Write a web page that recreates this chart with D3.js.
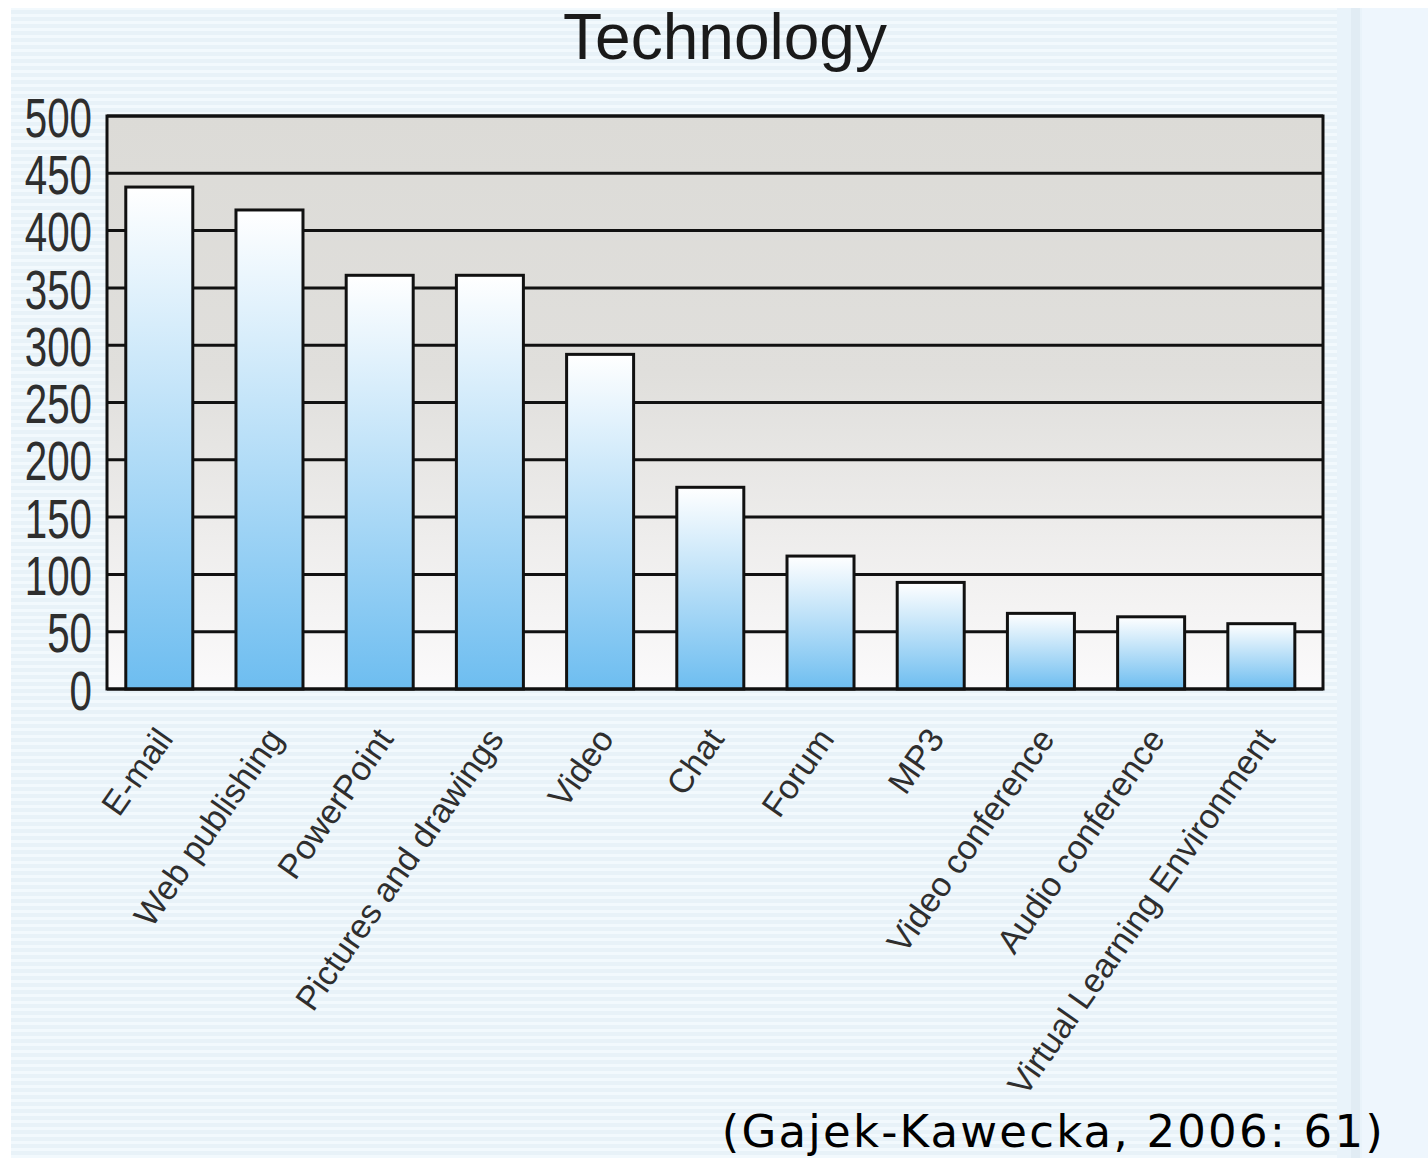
<!DOCTYPE html>
<html>
<head>
<meta charset="utf-8">
<script src="https://cdn.jsdelivr.net/npm/d3@7"></script>
<style>
  html, body { margin: 0; padding: 0; background: #ffffff; }
  svg { display: block; }
</style>
</head>
<body>
<svg id="chart" width="1428" height="1158"></svg>
<script>
// Survey counts per technology
const categories = ["E-mail", "Web publishing", "PowerPoint", "Pictures and drawings", "Video",
  "Chat", "Forum", "MP3", "Video conference", "Audio conference", "Virtual Learning Environment"];
const values = [438, 418, 361, 361, 292, 176, 116, 93, 66, 63, 57];
const yTicks = [0, 50, 100, 150, 200, 250, 300, 350, 400, 450, 500];
const titleText = "Technology";
const sourceText = "(Gajek-Kawecka, 2006: 61)";

const svg = d3.select("#chart");
const defs = svg.append("defs");

// page background: pale blue panel with faint horizontal stripes
const stripes = defs.append("pattern")
  .attr("id", "stripes").attr("patternUnits", "userSpaceOnUse")
  .attr("width", 8).attr("height", 7);
stripes.append("rect").attr("width", 8).attr("height", 7).attr("fill", "#f2f9fd");
stripes.append("rect").attr("y", 3).attr("width", 8).attr("height", 4).attr("fill", "#e8f2f8");

svg.append("rect").attr("x", 11).attr("y", 8).attr("width", 1417).attr("height", 1150).attr("fill", "#eef6fd");
svg.append("rect").attr("x", 11).attr("y", 8).attr("width", 1326).attr("height", 1150).attr("fill", "url(#stripes)");
svg.append("rect").attr("x", 1337).attr("y", 8).attr("width", 25).attr("height", 1150).attr("fill", "#e9f3fa");
svg.append("rect").attr("x", 1351).attr("y", 8).attr("width", 9).attr("height", 1150).attr("fill", "#e1ecf4");

// plot background gradient (grey at top fading to white)
const plotGrad = defs.append("linearGradient").attr("id", "plotBg")
  .attr("x1", 0).attr("y1", 0).attr("x2", 0).attr("y2", 1);
plotGrad.append("stop").attr("offset", "0%").attr("stop-color", "#dcdbd7");
plotGrad.append("stop").attr("offset", "45%").attr("stop-color", "#e0dfdc");
plotGrad.append("stop").attr("offset", "100%").attr("stop-color", "#fbfafb");

// bar fill gradient (white top to sky blue bottom)
const barGrad = defs.append("linearGradient").attr("id", "barFill")
  .attr("x1", 0).attr("y1", 0).attr("x2", 0).attr("y2", 1);
barGrad.append("stop").attr("offset", "0%").attr("stop-color", "#ffffff");
barGrad.append("stop").attr("offset", "100%").attr("stop-color", "#6dbdf0");

const plot = { left: 107, right: 1323, top: 116, bottom: 689 };

const x = d3.scaleBand()
  .domain(categories)
  .range([plot.left, plot.right])
  .paddingInner(0.392)
  .paddingOuter(0.213)
  .align(0.4);

const y = d3.scaleLinear()
  .domain([0, 500])
  .range([plot.bottom, plot.top]);

svg.append("rect")
  .attr("x", plot.left).attr("y", plot.top)
  .attr("width", plot.right - plot.left).attr("height", plot.bottom - plot.top)
  .attr("fill", "url(#plotBg)");

// horizontal gridlines
svg.append("g")
  .selectAll("line")
  .data(yTicks)
  .join("line")
  .attr("x1", plot.left).attr("x2", plot.right)
  .attr("y1", d => y(d)).attr("y2", d => y(d))
  .attr("stroke", "#111").attr("stroke-width", 3);

// bars
svg.append("g")
  .selectAll("rect")
  .data(values)
  .join("rect")
  .attr("x", (d, i) => x(categories[i]))
  .attr("y", d => y(d))
  .attr("width", x.bandwidth())
  .attr("height", d => y(0) - y(d))
  .attr("fill", "url(#barFill)")
  .attr("stroke", "#111")
  .attr("stroke-width", 3);

// plot frame
svg.append("rect")
  .attr("x", plot.left).attr("y", plot.top)
  .attr("width", plot.right - plot.left).attr("height", plot.bottom - plot.top)
  .attr("fill", "none").attr("stroke", "#111").attr("stroke-width", 3);

// y axis labels (condensed)
const yAxis = d3.axisLeft(y).tickValues(yTicks).tickSize(0).tickPadding(0);
const yg = svg.append("g").attr("transform", `translate(${plot.left - 15},0)`).call(yAxis);
yg.select(".domain").remove();
yg.selectAll("text")
  .attr("font-family", "'Liberation Sans', Arial, sans-serif")
  .attr("font-size", 56)
  .attr("fill", "#2e2e2e")
  .attr("x", 0)
  .attr("dy", "0.36em")
  .attr("transform", "scale(0.72,1)");

// category labels, rotated
const xAxis = d3.axisBottom(x).tickSize(0).tickPadding(0);
const xg = svg.append("g").attr("transform", `translate(0,${plot.bottom})`).call(xAxis);
xg.select(".domain").remove();
xg.selectAll("text")
  .attr("font-family", "'Liberation Sans', Arial, sans-serif")
  .attr("font-size", 34)
  .attr("fill", "#2e2e2e")
  .attr("text-anchor", "end")
  .attr("y", 0)
  .attr("dy", 0)
  .attr("transform", "translate(15,50) rotate(-55)");

// title
svg.append("text")
  .attr("x", 725).attr("y", 59)
  .attr("text-anchor", "middle")
  .attr("font-family", "'Liberation Sans', Arial, sans-serif")
  .attr("font-size", 64)
  .attr("fill", "#1a1a1a")
  .text(titleText);

// source note
svg.append("text")
  .attr("x", 1385).attr("y", 1147)
  .attr("text-anchor", "end")
  .attr("font-family", "'DejaVu Sans', Verdana, sans-serif")
  .attr("font-size", 45)
  .attr("letter-spacing", 2.2)
  .attr("fill", "#000")
  .text(sourceText);
</script>
</body>
</html>
